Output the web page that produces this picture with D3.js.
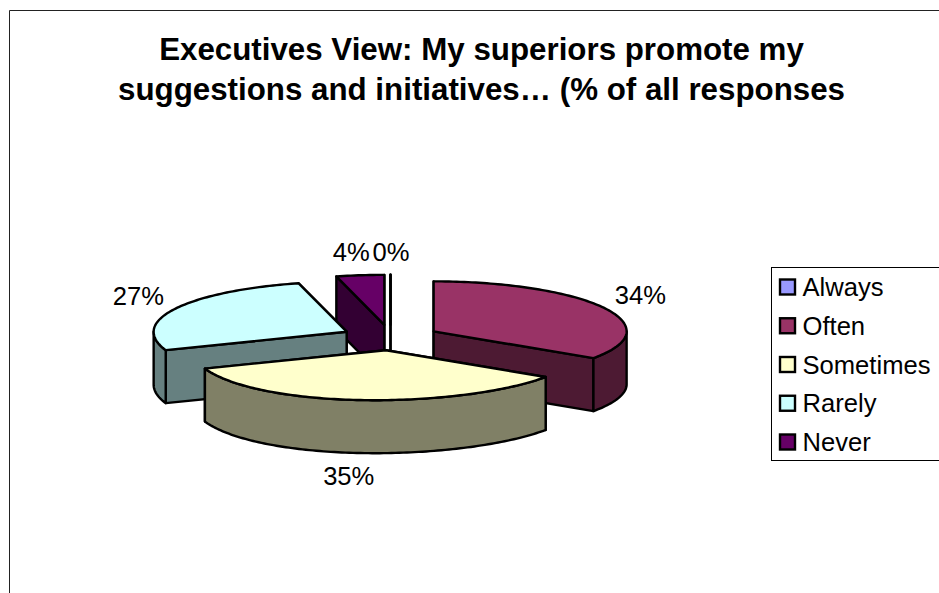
<!DOCTYPE html>
<html>
<head>
<meta charset="utf-8">
<title>Executives View</title>
<script src="https://cdn.jsdelivr.net/npm/d3@7/dist/d3.min.js"></script>
<style>
  html, body { margin: 0; padding: 0; background: #fff; }
  svg { display: block; }
  text { font-family: "Liberation Sans", Arial, sans-serif; fill: #000; }
</style>
</head>
<body>
<svg id="chart" width="939" height="593"></svg>
<script>
// Survey responses, in percent of all responses
const categories = ["Always", "Often", "Sometimes", "Rarely", "Never"];
const percentages = [0, 34, 35, 27, 4];
const topColors = ["#9999FF", "#993366", "#FFFFCC", "#CCFFFF", "#660066"];
const sideColors = ["#4D4D80", "#4D1A33", "#808066", "#668080", "#330033"];
const titleLines = [
  "Executives View: My superiors promote my",
  "suggestions and initiatives… (% of all responses"
];

const svg = d3.select("#chart");
const width = 939, height = 593;

// Chart frame: runs off the right and bottom of the page
svg.append("path")
  .attr("d", `M${width + 2},10.5 H9.5 V${height + 2}`)
  .attr("fill", "none").attr("stroke", "#222").attr("stroke-width", 1);

// Title
svg.append("g").selectAll("text").data(titleLines).join("text")
  .attr("x", 481.5)
  .attr("y", (d, i) => 60 + i * 39.5)
  .attr("text-anchor", "middle")
  .attr("font-size", 31.3)
  .attr("font-weight", "bold")
  .text(d => d);

// Tilted pie geometry; the front of the rim leans slightly to the left
const cx = 390.5, cy = 337.5, rx = 193, ry = 50, depth = 53, explode = 0.255, lean = 0.22;
const project = (a, r = 1) => {
  const y = -r * ry * Math.cos(a);
  return [r * rx * Math.sin(a) - lean * Math.max(0, y) ** 2 / ry, y];
};
const line = d3.line();

const pie = d3.pie().value(d => d.value).sort(null);
const arcs = pie(categories.map((name, i) => ({
  name, value: percentages[i], top: topColors[i], side: sideColors[i]
}))).map(s => {
  const mid = (s.startAngle + s.endAngle) / 2;
  const ox = explode * rx * Math.sin(mid), oy = -explode * ry * Math.cos(mid);
  return { ...s, mid, apex: [cx + ox, cy + oy] };
});

const arcPoints = (s, a0, a1) => {
  const n = Math.max(1, Math.ceil((a1 - a0) / 0.02));
  return d3.range(n + 1).map(i => {
    const [x, y] = project(a0 + (a1 - a0) * i / n);
    return [s.apex[0] + x, s.apex[1] + y];
  });
};
const drop = p => [p[0], p[1] + depth];

const styled = (sel, fill) => sel
  .attr("fill", fill).attr("stroke", "#000")
  .attr("stroke-width", 2.4).attr("stroke-linejoin", "round");

// Back slices first so the front ones overlap them
const pieGroup = svg.append("g");
arcs.slice().sort((a, b) => d3.ascending(a.apex[1], b.apex[1])).forEach(s => {
  const g = pieGroup.append("g");
  const startPt = arcPoints(s, s.startAngle, s.startAngle)[0];
  const endPt = arcPoints(s, s.endAngle, s.endAngle)[0];

  // Radial cut faces, the one further back first
  [startPt, endPt].sort((a, b) => d3.ascending(a[1], b[1])).forEach(p => {
    styled(g.append("path"), s.data.side)
      .attr("d", line([s.apex, p, drop(p), drop(s.apex)]) + "Z");
  });

  // Rim, only where the outer edge faces forward
  const a0 = Math.max(s.startAngle, Math.PI / 2);
  const a1 = Math.min(s.endAngle, 3 * Math.PI / 2);
  if (a1 > a0) {
    const rim = arcPoints(s, a0, a1);
    styled(g.append("path"), s.data.side)
      .attr("d", line(rim.concat(rim.map(drop).reverse())) + "Z");
  }

  // Top face
  styled(g.append("path"), s.data.top)
    .attr("d", line([s.apex, ...arcPoints(s, s.startAngle, s.endAngle)]) + "Z");
});

// Percentage labels outside each slice
const labelNudge = {
  Always: [0.5, 0], Often: [0, -1], Sometimes: [-4, 0], Rarely: [2, -3], Never: [-3.5, 0]
};
svg.append("g").selectAll("text").data(arcs).join("text")
  .attr("x", d => d.apex[0] + project(d.mid)[0] + 43 * Math.sin(d.mid) + labelNudge[d.data.name][0])
  .attr("y", d => {
    const front = Math.cos(d.mid) < -0.5 ? depth : 0;
    return d.apex[1] + project(d.mid)[1] + front - 23 * Math.cos(d.mid) + 9 + labelNudge[d.data.name][1];
  })
  .attr("text-anchor", "middle")
  .attr("font-size", 25.6)
  .text(d => d.value + "%");

// Legend: its box also runs off the right edge
const legend = svg.append("g");
legend.append("rect")
  .attr("x", 771.5).attr("y", 267.5)
  .attr("width", 180).attr("height", 193)
  .attr("fill", "#fff").attr("stroke", "#000").attr("stroke-width", 1);
const rowY = d3.scalePoint().domain(categories).range([287, 442]);
const rows = legend.selectAll("g").data(categories).join("g")
  .attr("transform", d => `translate(0,${rowY(d)})`);
rows.append("rect")
  .attr("x", 780).attr("y", -7.5).attr("width", 15).attr("height", 15)
  .attr("fill", (d, i) => topColors[i])
  .attr("stroke", "#000").attr("stroke-width", 2.4);
rows.append("text")
  .attr("x", 802.5).attr("y", 9)
  .attr("font-size", 25.6)
  .text(d => d);
</script>
</body>
</html>
